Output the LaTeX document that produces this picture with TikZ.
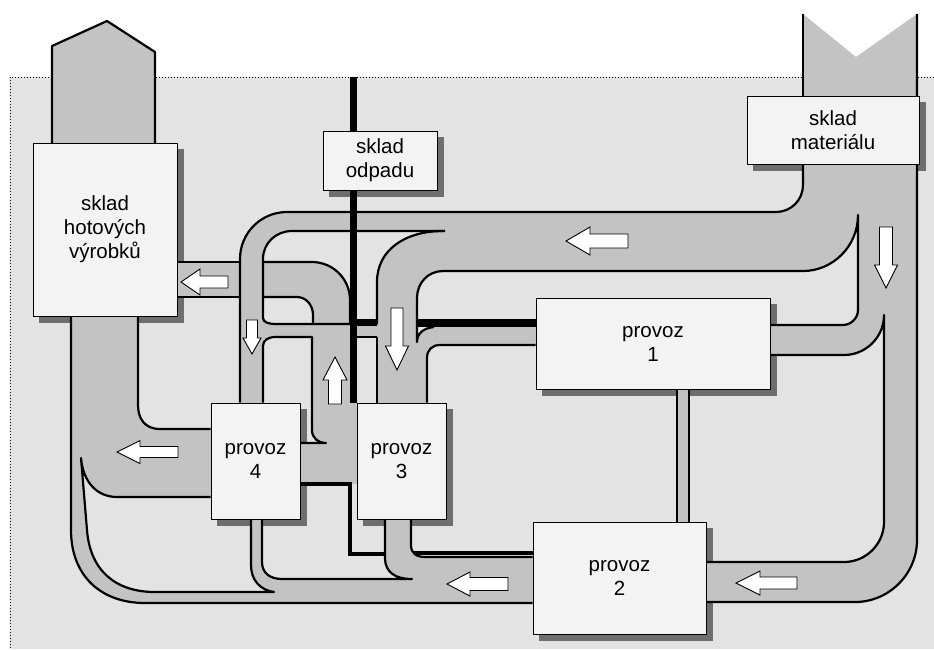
\documentclass[tikz,border=0pt]{standalone}
\usepackage{fontspec}
\setmainfont{Liberation Sans}
\pgfdeclarelayer{bg}
\pgfdeclarelayer{shad}
\pgfdeclarelayer{chan}
\pgfdeclarelayer{walls}
\pgfsetlayers{bg,shad,chan,walls,main}
\definecolor{bgc}{HTML}{E3E3E3}
\definecolor{chanc}{HTML}{C3C3C3}
\definecolor{shadc}{HTML}{6E6E6E}
\definecolor{boxc}{HTML}{F3F3F3}
\newcommand\arrL[6]{\draw[blockarr] (#1,#2) -- (#3,#2-#5) -- (#3,#2-#6) -- (#4,#2-#6) -- (#4,#2+#6) -- (#3,#2+#6) -- (#3,#2+#5) -- cycle;}
\newcommand\arrV[6]{\draw[blockarr] (#1,#2) -- (#1-#5,#3) -- (#1-#6,#3) -- (#1-#6,#4) -- (#1+#6,#4) -- (#1+#6,#3) -- (#1+#5,#3) -- cycle;}
\begin{document}
\begin{tikzpicture}[x=1pt,y=-1pt,
  unitbox/.style={draw, line width=1pt, fill=boxc, inner sep=0pt, align=center,
    font=\fontsize{20.5pt}{24pt}\selectfont},
  wall/.style={line width=2.2pt, line join=round},
  waste/.style={line width=7pt},
  wastethin/.style={line width=4.5pt, line join=miter},
  chanfill/.style={fill=chanc},
  blockarr/.style={draw, fill=white, line width=0.9pt, line join=miter},
  frame/.style={line width=0.8pt, dash pattern=on 1pt off 2pt}]
\useasboundingbox (0,0) rectangle (934,649);

% ---------- boxes ----------
\node[unitbox, minimum width=144pt, minimum height=173pt] (shv) at (105,229.5) {sklad\\hotových\\výrobků};
\node[unitbox, minimum width=114pt, minimum height=59pt] (so) at (380,160.5) {sklad\\odpadu};
\node[unitbox, minimum width=172pt, minimum height=68pt] (sm) at (833,130) {sklad\\materiálu};
\node[unitbox, minimum width=234pt, minimum height=91pt] (p1) at (653,343.5) {provoz\\1};
\node[unitbox, minimum width=173pt, minimum height=112pt] (p2) at (619.5,578) {provoz\\2};
\node[unitbox, minimum width=89pt, minimum height=116pt] (p4) at (255.5,461) {provoz\\4};
\node[unitbox, minimum width=89pt, minimum height=116pt] (p3) at (401.5,461) {provoz\\3};

% ---------- background ----------
\begin{pgfonlayer}{bg}
\fill[white] (0,0) rectangle (934,649);
\fill[bgc] (10,77) rectangle (934,649);
\draw[frame] (934,77) -- (10,77) -- (10,649);
\end{pgfonlayer}

% ---------- shadows ----------
\begin{pgfonlayer}{shad}
\foreach \n in {shv,so,sm,p1,p2,p3,p4}
  \fill[shadc] ([shift={(6,6)}]\n.north west) rectangle ([shift={(6,6)}]\n.south east);
\end{pgfonlayer}

% ---------- channel fills ----------
\begin{pgfonlayer}{chan}
% chimneys
\fill[chanfill] (803,14) -- (856,57) -- (917,14) -- (917,100) -- (803,100) -- cycle;
\fill[chanfill] (52,143) -- (52,46) -- (107,21) -- (155,52) -- (155,143) -- cycle;
% main right network
\fill[chanfill] (803,164) -- (803,185) .. controls (803,200) and (791,212) .. (776,212)
  -- (440,212) -- (440,271) -- (803,271) .. controls (833,271) and (858,246) .. (858,215)
  -- (858,310) .. controls (858,318) and (851,325) .. (843,325) -- (770,325) -- (770,355)
  -- (844,355) .. controls (866,355) and (884,337) .. (884,315) -- (884,522)
  .. controls (884,544) and (866,562) .. (844,562) -- (706,562) -- (706,602) -- (855,602)
  .. controls (889,602) and (917,574) .. (917,540) -- (917,164) -- cycle;
% narrow channel to provoz 4
\fill[chanfill] (445,212) -- (287,212) .. controls (261,212) and (240,233) .. (240,259)
  -- (240,403) -- (263,403) -- (263,259) .. controls (263,243) and (276,231) .. (292,231)
  -- (445,231) -- cycle;
% channel into provoz 3 (from top and from provoz 1)
\fill[chanfill] (443,231) .. controls (405,231) and (377,250) .. (377,282) -- (377,403)
  -- (427,403) -- (427,358) .. controls (427,350) and (432,345) .. (440,345) -- (536,345)
  -- (536,327) -- (434,327) .. controls (423,328) and (417,334) .. (417,342)
  -- (417,298) .. controls (417,283) and (428,271) .. (443,271) -- cycle;
% thin cross channel
\fill[chanfill] (263,318) .. controls (263,322) and (268,324) .. (276,324) -- (377,324)
  -- (377,337) -- (276,337) .. controls (268,337) and (263,340) .. (263,346) -- cycle;
% branch to sklad hotovych vyrobku
\fill[chanfill] (177,262) -- (312,262) .. controls (333,262) and (350,279) .. (350,300)
  -- (355,300) -- (355,330) -- (313,330) -- (313,315) .. controls (313,305) and (306,297) .. (297,297)
  -- (177,297) -- cycle;
% up channel and provoz 4 - provoz 3 channel
\fill[chanfill] (312,337) -- (312,430) .. controls (312,438) and (318,443) .. (326,443)
  -- (300,443) -- (300,484) -- (357,484) -- (357,324) -- (312,324) -- cycle;
% big left / bottom network
\fill[chanfill] (71,316) -- (71,530) .. controls (71,575) and (100,603) .. (145,603)
  -- (533,603) -- (533,557) -- (425,557) .. controls (416,557) and (411,553) .. (411,545)
  -- (411,519) -- (385,519) -- (385,558) .. controls (385,572) and (395,579) .. (412,579)
  -- (282,579) .. controls (270,579) and (262,573) .. (262,562) -- (262,519)
  -- (251,519) -- (251,565) .. controls (251,580) and (260,590) .. (274,592)
  -- (155,592) .. controls (115,592) and (90,570) .. (87,530) -- (81,458)
  .. controls (83,482) and (97,497) .. (117,497) -- (211,497) -- (211,429)
  -- (160,429) .. controls (145,429) and (138,419) .. (138,405) -- (138,316) -- cycle;
% provoz 1 - provoz 2
\fill[chanfill] (677,389) rectangle (689,522);
\end{pgfonlayer}

% ---------- walls, waste lines, arrows ----------
\begin{pgfonlayer}{walls}
\draw[wall] (52,143) -- (52,46) -- (107,21) -- (155,52) -- (155,143);
\draw[wall] (917,14) -- (917,540) .. controls (917,574) and (889,602) .. (855,602) -- (p2.east |- 0,602);
\draw[wall] (803,14) -- (sm.north -| 803,0);
\draw[wall] (sm.south -| 803,0) -- (803,185) .. controls (803,200) and (791,212) .. (776,212)
  -- (287,212) .. controls (261,212) and (240,233) .. (240,259) -- (p4.north -| 240,0);
\draw[wall] (443,271) -- (803,271) .. controls (833,271) and (858,246) .. (858,215)
  -- (858,310) .. controls (858,318) and (851,325) .. (843,325) -- (p1.east |- 0,325);
\draw[wall] (p1.east |- 0,355) -- (844,355) .. controls (866,355) and (884,337) .. (884,315)
  -- (884,522) .. controls (884,544) and (866,562) .. (844,562) -- (p2.east |- 0,562);
\draw[wall] (445,231) -- (292,231) .. controls (276,231) and (263,243) .. (263,259)
  -- (263,318) .. controls (263,322) and (268,324) .. (276,324) -- (377,324);
\draw[wall] (443,231) .. controls (405,231) and (377,250) .. (377,282) -- (377,324);
\draw[wall] (377,337) -- (p3.north -| 377,0);
\draw[wall] (443,271) .. controls (428,271) and (417,283) .. (417,298) -- (417,342)
  .. controls (417,334) and (423,328) .. (434,327);
\draw[wall] (p1.west |- 0,345) -- (440,345) .. controls (432,345) and (427,350) .. (427,358)
  -- (p3.north -| 427,0);
\draw[wall] (shv.east |- 0,262) -- (240,262);
\draw[wall] (263,262) -- (312,262) .. controls (333,262) and (350,279) .. (350,300) -- (350,324);
\draw[wall] (shv.east |- 0,297) -- (240,297);
\draw[wall] (263,297) -- (297,297) .. controls (306,297) and (313,305) .. (313,315) -- (313,324);
\draw[wall] (p4.north -| 263,0) -- (263,346) .. controls (263,340) and (268,337) .. (276,337)
  -- (312,337) -- (312,430) .. controls (312,438) and (318,443) .. (326,443) -- (p4.east |- 0,443);
\draw[wall] (357,337) -- (377,337);
\draw[wall] (shv.south -| 71,0) -- (71,530) .. controls (71,575) and (100,603) .. (145,603)
  -- (p2.west |- 0,603);
\draw[wall] (p2.west |- 0,557) -- (425,557) .. controls (416,557) and (411,553) .. (411,545)
  -- (p3.south -| 411,0);
\draw[wall] (p3.south -| 385,0) -- (385,558) .. controls (385,572) and (395,579) .. (412,579)
  -- (282,579) .. controls (270,579) and (262,573) .. (262,562) -- (p4.south -| 262,0);
\draw[wall] (p4.south -| 251,0) -- (251,565) .. controls (251,580) and (260,590) .. (274,592)
  -- (155,592) .. controls (115,592) and (90,570) .. (87,530) -- (81,458)
  .. controls (83,482) and (97,497) .. (117,497) -- (p4.west |- 0,497);
\draw[wall] (p4.west |- 0,429) -- (160,429) .. controls (145,429) and (138,419) .. (138,405)
  -- (shv.south -| 138,0);
\draw[wall] (p1.south -| 677,0) -- (p2.north -| 677,0);
\draw[wall] (p1.south -| 689,0) -- (p2.north -| 689,0);
% waste lines
\draw[waste] (353,77) -- (p3.north -| 353,0);
\draw[line width=8pt] (p1.west |- 0,323) -- (417,323);
\draw[waste] (377,322) -- (350,322);
\draw[wastethin] (p4.east |- 0,484) -- (350,484) -- (350,554) -- (385,554);
\draw[wastethin] (p2.west |- 0,553) -- (414,553);
% flow arrows
\arrL{181}{282}{200}{228}{13}{6}
\arrL{566}{241}{590}{628}{14}{7}
\arrV{886}{288}{265}{227}{11.5}{6.5}
\arrV{252}{354}{338}{320}{9}{5.5}
\arrV{335}{357}{380}{404}{12}{6.5}
\arrV{397}{370}{346}{308}{11.5}{6}
\arrL{117}{452}{140}{178}{11.5}{5.5}
\arrL{447}{584}{470}{508}{12}{6.5}
\arrL{736}{583}{760}{797}{12}{6}
\end{pgfonlayer}
\end{tikzpicture}
\end{document}
